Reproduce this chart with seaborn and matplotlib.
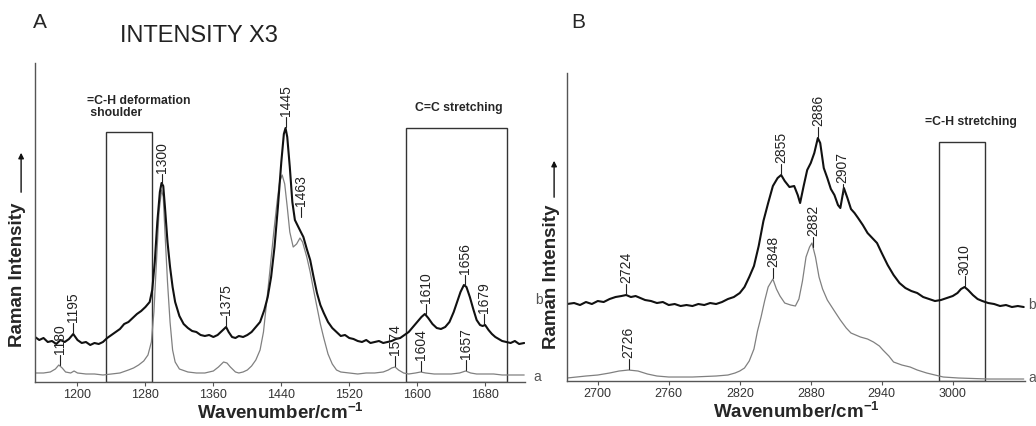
import numpy as np
import pandas as pd
import matplotlib
matplotlib.use('Agg')
import matplotlib.pyplot as plt
from matplotlib.patches import Rectangle, FancyArrowPatch
import seaborn as sns

sns.set_theme(style='white')
plt.rcParams['font.family'] = ['Liberation Sans', 'DejaVu Sans']
plt.rcParams['mathtext.fontset'] = 'custom'
plt.rcParams['mathtext.rm'] = 'Liberation Sans'
plt.rcParams['mathtext.bf'] = 'Liberation Sans:bold'

# Panel A (1150-1727 cm-1), trace b (black) and a (grey)
wn_A_b = [1150, 1155, 1160, 1165, 1170, 1175, 1180, 1185, 1190, 1195, 1200, 1205, 1210, 1215,
          1220, 1225, 1230, 1235, 1240, 1245, 1250, 1255, 1260, 1265, 1270, 1275, 1280, 1285,
          1288, 1291, 1294, 1297, 1299, 1301, 1303, 1306, 1309, 1312, 1315, 1320, 1325, 1330,
          1335, 1340, 1345, 1350, 1355, 1360, 1365, 1370, 1375, 1378, 1382, 1386, 1390, 1395,
          1400, 1405, 1410, 1415, 1420, 1424, 1428, 1432, 1436, 1440, 1443, 1445, 1447, 1450,
          1453, 1456, 1460, 1463, 1466, 1470, 1474, 1478, 1482, 1486, 1490, 1495, 1500, 1505,
          1510, 1515, 1520, 1525, 1530, 1535, 1540, 1545, 1550, 1555, 1560, 1565, 1570, 1575,
          1580, 1585, 1590, 1595, 1600, 1605, 1609, 1613, 1618, 1623, 1628, 1633, 1638, 1643,
          1647, 1651, 1655, 1658, 1662, 1666, 1670, 1674, 1677, 1680, 1684, 1688, 1692, 1696,
          1700, 1705, 1710, 1715, 1720, 1726]
int_A_b = [45, 42, 44, 40, 41, 38, 42, 40, 43, 48, 42, 39, 40, 37,
           39, 38, 40, 44, 47, 50, 53, 58, 60, 64, 68, 71, 75, 80,
           92, 120, 160, 190, 199, 196, 175, 140, 115, 95, 80, 66, 58, 54,
           51, 50, 47, 46, 47, 45, 47, 51, 55, 50, 45, 44, 46, 45,
           47, 50, 55, 60, 72, 85, 105, 135, 175, 220, 248, 254, 245, 215,
           180, 162, 155, 150, 145, 133, 122, 105, 89, 77, 69, 60, 54, 50,
           46, 47, 44, 43, 41, 40, 42, 39, 40, 41, 39, 40, 41, 43,
           44, 47, 50, 55, 60, 65, 68, 64, 58, 54, 53, 55, 60, 70,
           80, 90, 97, 95, 85, 73, 62, 57, 56, 57, 52, 48, 45, 43,
           41, 40, 39, 41, 38, 39]

wn_A_a = [1150, 1160, 1168, 1174, 1178, 1182, 1186, 1192, 1196, 1200, 1210, 1220, 1230, 1240,
          1250, 1260, 1266, 1272, 1278, 1283, 1287, 1290, 1293, 1296, 1299, 1301, 1303, 1306,
          1309, 1312, 1315, 1320, 1330, 1340, 1350, 1360, 1366, 1372, 1376, 1380, 1386, 1390,
          1395, 1400, 1405, 1410, 1415, 1419, 1423, 1427, 1431, 1435, 1438, 1441, 1444, 1447,
          1450, 1454, 1458, 1462, 1465, 1470, 1474, 1478, 1482, 1486, 1490, 1495, 1500, 1505,
          1510, 1520, 1530, 1540, 1550, 1560, 1566, 1570, 1574, 1578, 1584, 1590, 1598, 1604,
          1610, 1620, 1630, 1640, 1650, 1657, 1663, 1670, 1680, 1690, 1700, 1710, 1726]
int_A_a = [9, 9, 10, 13, 17, 14, 10, 9, 11, 9, 8, 8, 7, 8,
           9, 12, 14, 17, 21, 27, 40, 70, 120, 170, 192, 185, 150, 100,
           60, 32, 20, 13, 10, 9, 9, 11, 15, 20, 19, 15, 10, 9,
           10, 12, 16, 22, 32, 50, 82, 115, 149, 180, 200, 207, 198, 175,
           150, 135, 138, 144, 140, 125, 110, 92, 75, 58, 44, 28, 18, 12,
           10, 9, 8, 9, 9, 10, 12, 14, 15, 12, 9, 8, 9, 10,
           9, 8, 8, 8, 9, 11, 9, 8, 8, 8, 7, 7, 7]

# Panel B (2674-3061 cm-1)
wn_B_b = [2674, 2680, 2685, 2690, 2695, 2700, 2705, 2710, 2715, 2720, 2724, 2728, 2732, 2736,
          2740, 2745, 2750, 2755, 2760, 2765, 2770, 2775, 2780, 2785, 2790, 2795, 2800, 2805,
          2810, 2815, 2820, 2824, 2828, 2832, 2836, 2840, 2844, 2848, 2852, 2855, 2858, 2862,
          2866, 2869, 2871, 2874, 2877, 2880, 2883, 2886, 2888, 2891, 2894, 2897, 2900, 2903,
          2905, 2908, 2911, 2914, 2917, 2920, 2924, 2928, 2932, 2936, 2940, 2945, 2950, 2955,
          2960, 2965, 2970, 2975, 2980, 2985, 2990, 2995, 3000, 3004, 3007, 3010, 3013, 3017,
          3021, 3025, 3030, 3035, 3040, 3045, 3050, 3055, 3060]
int_B_b = [77, 78, 76, 79, 77, 80, 79, 82, 84, 85, 86, 84, 85, 83,
           81, 80, 78, 79, 76, 77, 75, 76, 75, 77, 76, 78, 77, 79,
           82, 84, 88, 94, 104, 115, 135, 160, 178, 195, 203, 206, 200, 194,
           195, 186, 178, 195, 211, 218, 228, 243, 238, 213, 203, 192, 186, 176,
           173, 193, 183, 172, 168, 163, 156, 148, 143, 138, 128, 116, 106, 98,
           93, 90, 88, 84, 82, 80, 81, 83, 85, 88, 92, 94, 91, 86,
           82, 80, 78, 77, 75, 76, 74, 75, 74]

wn_B_a = [2674, 2690, 2700, 2710, 2718, 2726, 2734, 2742, 2750, 2760, 2780, 2800, 2810, 2816,
          2820, 2824, 2828, 2832, 2835, 2838, 2841, 2844, 2848, 2851, 2854, 2858, 2863, 2867,
          2870, 2873, 2876, 2879, 2881, 2884, 2887, 2890, 2894, 2900, 2905, 2910, 2914, 2922,
          2928, 2933, 2938, 2941, 2946, 2950, 2957, 2964, 2970, 2978, 2985, 2992, 3005, 3030,
          3060]
int_B_a = [3, 5, 6, 8, 10, 11, 10, 7, 5, 4, 4, 5, 6, 8,
           10, 13, 20, 32, 50, 64, 80, 94, 102, 92, 85, 78, 76, 75,
           82, 100, 124, 134, 138, 124, 104, 92, 81, 70, 61, 53, 48, 44,
           42, 39, 35, 31, 25, 19, 16, 14, 11, 8, 6, 4, 3, 2,
           2]

# peak labels: wavenumber, trace
peaks_A = [(1180, 'a'), (1195, 'b'), (1300, 'b'), (1375, 'b'), (1445, 'b'), (1463, 'b'),
           (1574, 'a'), (1604, 'a'), (1610, 'b'), (1656, 'b'), (1657, 'a'), (1679, 'b')]
peaks_B = [(2724, 'b'), (2726, 'a'), (2848, 'a'), (2855, 'b'), (2882, 'a'), (2886, 'b'),
           (2907, 'b'), (3010, 'b')]

df_A = pd.concat([pd.DataFrame({'wn': wn_A_a, 'I': int_A_a, 's': 'a'}),
                  pd.DataFrame({'wn': wn_A_b, 'I': int_A_b, 's': 'b'})])
df_B = pd.concat([pd.DataFrame({'wn': wn_B_a, 'I': int_B_a, 's': 'a'}),
                  pd.DataFrame({'wn': wn_B_b, 'I': int_B_b, 's': 'b'})])

pal = {'a': '#808080', 'b': '#111111'}
widths = {'a': 0.9, 'b': 1.5}

fig = plt.figure(figsize=(10.36, 4.26), dpi=100)
axA = fig.add_axes([0.0338, 0.1033, 0.4730, 0.7488])
axB = fig.add_axes([0.5473, 0.1056, 0.4420, 0.7230])


def draw_panel(ax, df, peaks, xlim, ylim, ticks):
    for s in ['a', 'b']:
        sns.lineplot(data=df[df.s == s], x='wn', y='I', color=pal[s], lw=widths[s],
                     ax=ax, sort=False, estimator=None)
    ax.set_xlim(*xlim)
    ax.set_ylim(*ylim)
    ax.set_xticks(ticks)
    ax.set_yticks([])
    ax.set_ylabel('')
    ax.set_xlabel('Wavenumber/cm$^{\\mathbf{-1}}$', fontsize=13.5, fontweight='bold',
                  labelpad=1)
    ax.tick_params(axis='x', labelsize=9, labelcolor='#333333', direction='out',
                   length=3, width=0.8, color='#555555', pad=2, bottom=True)
    for side in ['top', 'right']:
        ax.spines[side].set_visible(False)
    for side in ['left', 'bottom']:
        ax.spines[side].set_color('#555555')
        ax.spines[side].set_linewidth(1.0)
    # peak markers
    for wn, s in peaks:
        sub = df[df.s == s]
        base = np.interp(wn, sub.wn, sub.I) + 1
        if wn == 1463:
            base += 14
        ax.plot([wn, wn], [base, base + 10], color='#222222', lw=0.8)
        ax.text(wn, base + 11, str(wn), rotation=90, ha='center', va='bottom',
                fontsize=10, color='#222222')


draw_panel(axA, df_A, peaks_A, (1150, 1727), (0, 319), np.arange(1200, 1681, 80))
draw_panel(axB, df_B, peaks_B, (2674, 3061), (0, 308), np.arange(2700, 3001, 60))

# boxed regions
for ax, x0, x1, top in [(axA, 1233, 1288, 250), (axA, 1587, 1706, 254), (axB, 2988, 3027, 239)]:
    ax.add_patch(Rectangle((x0, 0), x1 - x0, top, fill=False, ec='#333333', lw=1.0))

axA.text(1211, 287, '=C-H deformation\n shoulder', fontsize=8.8, fontweight='bold',
         ha='left', va='top', linespacing=1.05)
axA.text(1649, 274, 'C=C stretching', fontsize=8.8, fontweight='bold', ha='center', va='center')
axB.text(3015, 259, '=C-H stretching', fontsize=8.8, fontweight='bold', ha='center', va='center')

# trace labels
axA.text(1739, 82, 'b', fontsize=10, color='#555555', ha='left', va='center', clip_on=False)
axA.text(1737, 5, 'a', fontsize=10, color='#555555', ha='left', va='center', clip_on=False)
axB.text(3064, 76, 'b', fontsize=10, color='#555555', ha='left', va='center', clip_on=False)
axB.text(3064, 3, 'a', fontsize=10, color='#555555', ha='left', va='center', clip_on=False)

# y labels with arrows
W, H = 1036, 426
for xc, yc, ya0, ya1 in [(18, 275, 195, 150), (551, 277, 200, 158)]:
    fig.text(xc / W, 1 - yc / H, 'Raman Intensity', rotation=90, fontsize=13.5,
             fontweight='bold', ha='center', va='center')
    fig.add_artist(FancyArrowPatch(
        (xc / W + 0.003, 1 - ya0 / H), (xc / W + 0.003, 1 - ya1 / H),
        transform=fig.transFigure, arrowstyle='-|>', mutation_scale=8, lw=1.0, color='#111111'))

fig.text(40 / W, 1 - 22 / H, 'A', fontsize=15, ha='center', va='center')
fig.text(578 / W, 1 - 22 / H, 'B', fontsize=15, ha='center', va='center')
fig.text(199 / W, 1 - 36 / H, 'INTENSITY X3', fontsize=17, ha='center', va='center',
         color='#222222')

fig.savefig('out.png', dpi=100)
